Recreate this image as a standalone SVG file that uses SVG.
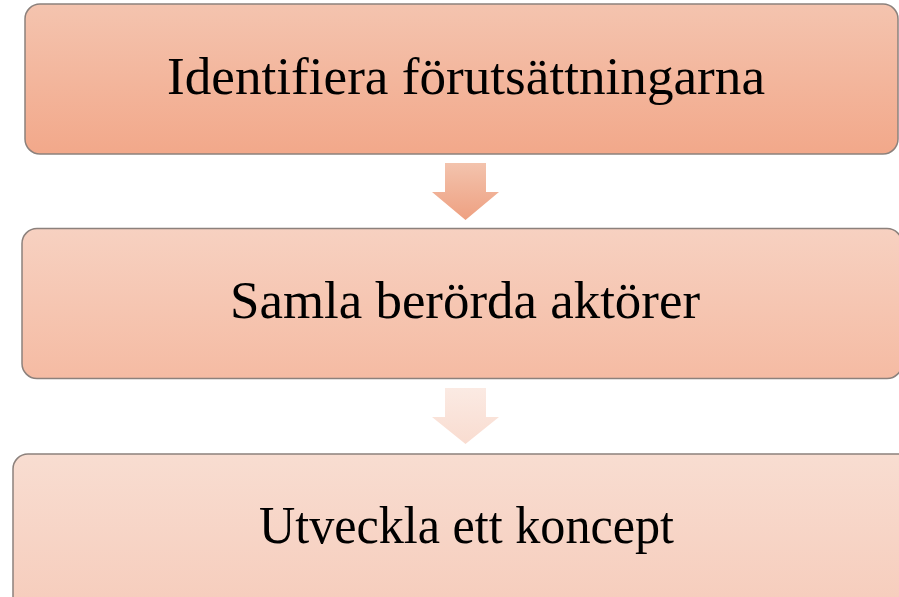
<svg xmlns="http://www.w3.org/2000/svg" width="899" height="597" viewBox="0 0 899 597">
  <defs>
    <linearGradient id="g1" x1="0" y1="0" x2="0" y2="1">
      <stop offset="0" stop-color="#f4c4af"/>
      <stop offset="1" stop-color="#f2a88a"/>
    </linearGradient>
    <linearGradient id="g2" x1="0" y1="0" x2="0" y2="1">
      <stop offset="0" stop-color="#f7d1c1"/>
      <stop offset="1" stop-color="#f5bba3"/>
    </linearGradient>
    <linearGradient id="g3" x1="0" y1="0" x2="0" y2="1">
      <stop offset="0" stop-color="#f8ddd1"/>
      <stop offset="1" stop-color="#f6cbba"/>
    </linearGradient>
    <linearGradient id="a1" x1="0" y1="0" x2="0" y2="1">
      <stop offset="0" stop-color="#f3c3ad"/>
      <stop offset="1" stop-color="#eea081"/>
    </linearGradient>
    <linearGradient id="a2" x1="0" y1="0" x2="0" y2="1">
      <stop offset="0" stop-color="#fbeae3"/>
      <stop offset="1" stop-color="#f9dcd0"/>
    </linearGradient>
  </defs>
  <style>
    .box { stroke: #8c817c; stroke-width: 1.5; }
    .lbl { font-family: "Liberation Serif", "Times New Roman", serif; font-size: 52px; fill: #000; text-anchor: middle; }
  </style>
  <rect width="899" height="597" fill="#ffffff"/>
  <g id="connectors">
    <polygon points="445,163 486,163 486,192 499,192 465.5,220 432,192 445,192" fill="url(#a1)"/>
    <polygon points="445,388 486,388 486,417 499,417 465.5,444 432,417 445,417" fill="url(#a2)"/>
  </g>
  <g id="node1">
    <rect class="box" x="25" y="4" width="873" height="150" rx="15" fill="url(#g1)"/>
    <text class="lbl" x="466" y="94" textLength="598" lengthAdjust="spacingAndGlyphs">Identifiera förutsättningarna</text>
  </g>
  <g id="node2">
    <rect class="box" x="22" y="228.5" width="880" height="150" rx="15" fill="url(#g2)"/>
    <text class="lbl" x="465" y="318" textLength="470" lengthAdjust="spacingAndGlyphs">Samla berörda aktörer</text>
  </g>
  <g id="node3">
    <rect class="box" x="13" y="454" width="900" height="170" rx="15" fill="url(#g3)"/>
    <text class="lbl" x="466.5" y="543" textLength="415" lengthAdjust="spacingAndGlyphs">Utveckla ett koncept</text>
  </g>
</svg>
